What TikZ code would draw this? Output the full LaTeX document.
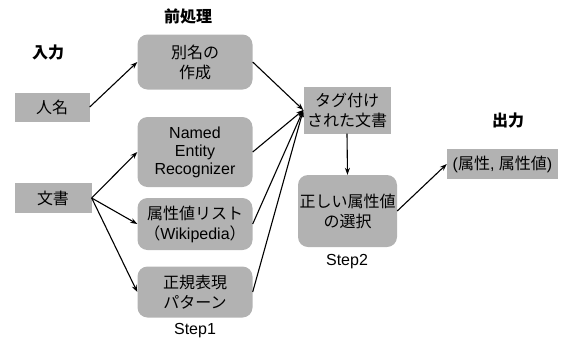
\documentclass[tikz,border=0pt]{standalone}
\usepackage{fontspec}
\setmainfont{Liberation Sans}
\newfontfamily\jp{Noto Sans CJK JP}
\usetikzlibrary{arrows.meta}
\tikzset{
  boxbase/.style={fill=black!30, inner sep=0pt, align=center, font=\fontsize{16}{20}\selectfont},
  sqbox/.style={boxbase, rectangle},
  rdbox/.style={boxbase, rectangle, rounded corners=10pt},
  title/.style={font=\jp\fontsize{16}{18}\selectfont\bfseries},
  steplabel/.style={font=\fontsize{16}{18}\selectfont},
  conn/.style={line width=1.1pt, -{Stealth[length=7pt,width=5pt]}},
}
\begin{document}
\begin{tikzpicture}[x=1pt,y=-1pt]
\useasboundingbox (0,0) rectangle (563,341);
\node[title] (tin) at (48,52) {入力};
\node[title] (tpre) at (188,16) {前処理};
\node[title] (tout) at (508,120) {出力};

\node[sqbox, minimum width=75pt, minimum height=29pt] (jinmei) at (52,107) {\jp 人名};
\node[sqbox, minimum width=77pt, minimum height=30pt] (bunsho) at (53,198) {\jp 文書};

\node[rdbox, minimum width=115pt, minimum height=55pt] (betsu) at (195,62) {\jp 別名の\\\jp 作成};
\node[rdbox, minimum width=115pt, minimum height=70pt] (ner) at (195,152) {Named\\[-2pt]Entity\\[-2pt]Recognizer};
\node[rdbox, minimum width=115pt, minimum height=52pt] (zoku) at (195,224) {\jp 属性値リスト\\{\jp （}Wikipedia{\jp ）}};
\node[rdbox, minimum width=115pt, minimum height=51pt] (seiki) at (195,292) {\jp 正規表現\\\jp パターン};
\node[steplabel] (s1) at (195,331) {Step1};

\node[sqbox, minimum width=87pt, minimum height=47pt] (tag) at (347,110) {\jp タグ付け\\\jp された文書};
\node[rdbox, minimum width=99pt, minimum height=72pt] (sel) at (347.5,211) {\jp 正しい属性値\\\jp の選択};
\node[steplabel] (s2) at (347,262) {Step2};

\node[sqbox, minimum width=111pt, minimum height=30pt] (out) at (502.5,164) {({\jp 属性}, {\jp 属性値})};

\draw[conn] (jinmei.east) -- (betsu.west);
\draw[conn] (bunsho.east) -- (ner.west);
\draw[conn] (bunsho.east) -- (zoku.west);
\draw[conn] (bunsho.east) -- (seiki.west);
\draw[conn] (betsu.east) -- (tag.west);
\draw[conn] (ner.east) -- (tag.west);
\draw[conn] (zoku.east) -- (tag.west);
\draw[conn] (seiki.east) -- (tag.west);
\draw[conn] (tag.south) -- (sel.north);
\draw[conn] (sel.east) -- (out.west);
\end{tikzpicture}
\end{document}
